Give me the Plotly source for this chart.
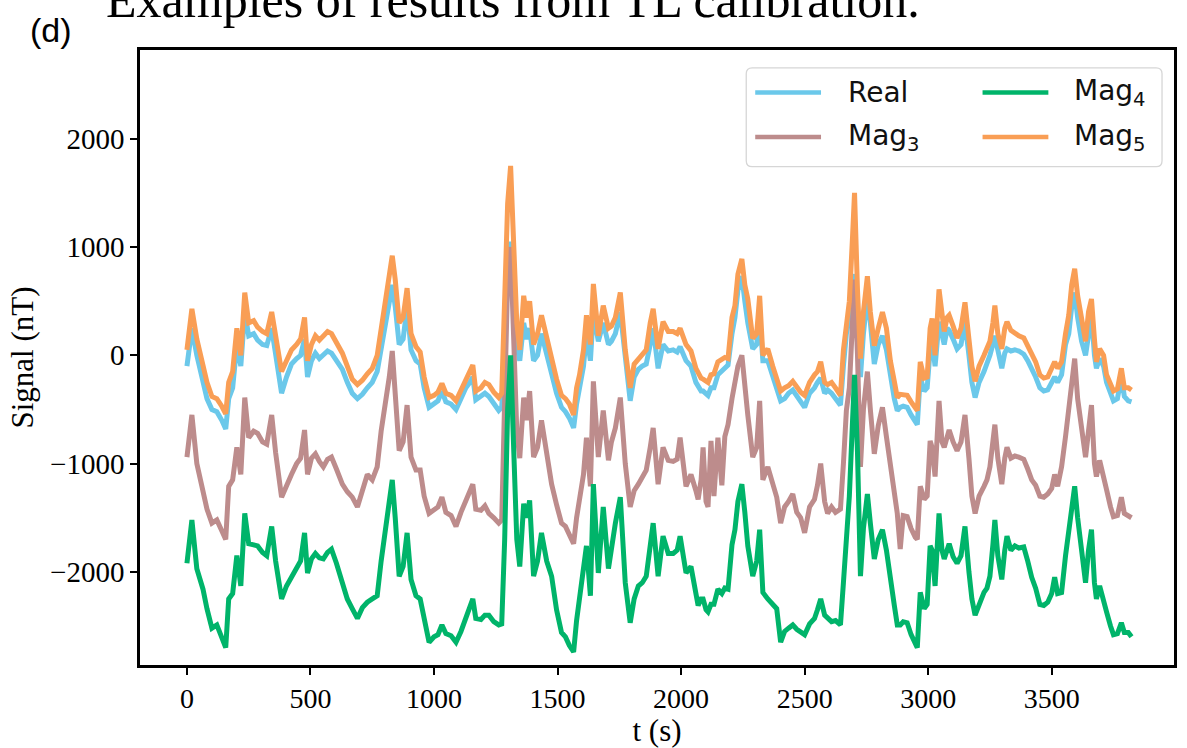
import plotly.graph_objects as go

# ---------------- data ----------------
t = [0,20,40,65,81,101,121,141,157,169,
     185,202,218,234,250,270,286,306,323,343,
     359,383,403,423,444,460,476,488,504,520,
     536,552,569,585,605,629,649,669,690,710,
     730,750,770,786,802,819,831,843,859,875,
     891,907,927,944,960,980,1000,1016,1032,1048,
     1069,1089,1109,1129,1145,1157,1169,1190,1206,1222,
     1242,1262,1274,1286,1298,1310,1323,1335,1347,1363,
     1375,1387,1403,1419,1435,1456,1476,1496,1516,1532,
     1548,1565,1577,1589,1605,1617,1633,1645,1665,1685,
     1706,1718,1734,1754,1774,1794,1810,1827,1843,1859,
     1875,1887,1907,1927,1948,1968,1984,1996,2020,2040,
     2060,2069,2081,2089,2101,2109,2121,2133,2149,2165,
     2177,2190,2206,2218,2230,2246,2258,2270,2290,2306,
     2318,2331,2351,2371,2387,2403,2419,2435,2452,2468,
     2484,2500,2520,2540,2552,2565,2581,2593,2609,2625,
     2645,2657,2669,2681,2694,2702,2714,2726,2738,2754,
     2766,2782,2798,2815,2831,2847,2863,2875,2887,2899,
     2915,2931,2948,2956,2968,2984,2996,3008,3016,3028,
     3044,3056,3065,3077,3085,3101,3117,3133,3149,3165,
     3177,3190,3206,3226,3238,3250,3262,3270,3282,3298,
     3310,3319,3335,3351,3367,3387,3403,3419,3435,3452,
     3468,3484,3500,3512,3524,3540,3556,3569,3581,3593,
     3605,3621,3637,3649,3661,3673,3681,3694,3710,3722,
     3738,3750,3766,3782,3794,3810,3823]

real = [-100,250,0,-250,-400,-500,-520,-600,-680,-400,
        -300,100,-100,400,180,200,140,100,90,250,
        0,-350,-200,-80,-30,0,150,-200,-50,20,
        -30,0,40,20,-50,-130,-250,-350,-400,-360,
        -300,-250,-150,50,250,500,650,450,100,150,
        450,50,-50,-80,-300,-480,-450,-420,-330,-430,
        -450,-500,-400,-300,-250,-200,-410,-380,-350,-380,
        -450,-510,-480,0,800,1050,600,100,-50,300,
        150,250,-50,0,200,0,-150,-350,-480,-520,
        -580,-670,-450,-300,-100,200,-50,400,130,300,
        100,130,200,400,-50,-420,-200,-130,-100,-80,
        100,250,-120,100,40,50,30,80,-50,-100,
        -250,-280,-330,-330,-360,-370,-300,-300,-180,-150,
        -120,-90,200,350,600,730,500,300,60,100,
        370,-50,-50,-200,-300,-420,-400,-350,-320,-380,
        -420,-480,-350,-300,-250,-210,-350,-320,-350,-400,
        -460,-100,200,350,600,750,300,-200,200,550,
        300,-80,100,180,50,-200,-400,-510,-480,-470,
        -480,-550,-620,-640,-200,-330,-300,50,130,-100,
        310,200,100,250,230,150,60,100,310,0,
        -250,-390,-250,-150,-80,0,100,180,50,-120,
        20,60,40,50,40,10,-50,-120,-200,-300,
        -330,-320,-250,-200,-250,-180,100,200,450,580,
        350,130,0,200,370,0,-120,-30,-100,-250,
        -350,-420,-400,-200,-380,-420,-430]

mag5 = [50,430,150,-120,-250,-380,-400,-470,-540,-250,
        -150,250,0,580,300,320,260,220,200,400,
        150,-150,-50,50,100,150,350,-50,100,180,
        140,180,220,200,120,20,-100,-220,-270,-230,
        -170,-120,0,250,450,700,920,700,300,350,
        620,200,80,30,-200,-390,-370,-340,-260,-350,
        -370,-420,-320,-220,-150,-90,-330,-300,-250,-270,
        -340,-390,-350,400,1400,1750,900,300,50,550,
        350,500,100,200,370,150,-50,-220,-370,-400,
        -450,-550,-300,-180,50,370,100,660,180,460,
        250,270,350,580,50,-300,-80,-30,0,50,
        300,430,60,310,220,220,200,250,100,40,
        -120,-160,-210,-220,-240,-250,-180,-170,-60,-40,
        -20,-30,350,460,750,890,650,520,155,200,
        550,0,60,-100,-200,-330,-300,-280,-240,-300,
        -340,-370,-250,-180,-150,-60,-250,-270,-250,-300,
        -370,50,310,500,1100,1500,600,-30,400,730,
        400,90,250,400,250,-50,-240,-390,-360,-360,
        -370,-430,-490,-510,-60,-210,-200,250,340,0,
        610,350,220,350,370,270,160,250,490,150,
        -100,-240,-100,0,60,130,300,460,200,60,
        250,310,230,200,180,160,80,0,-60,-180,
        -210,-200,-120,-60,-120,-60,200,370,650,800,
        550,310,130,400,520,150,-60,60,0,-180,
        -260,-330,-310,-120,-300,-300,-320]

mag3 = [-940,-550,-1000,-1240,-1420,-1550,-1520,-1620,-1700,-1210,
        -1150,-850,-1100,-390,-760,-700,-720,-800,-820,-550,
        -900,-1310,-1190,-1100,-1000,-950,-690,-1100,-950,-910,
        -980,-1030,-960,-940,-1050,-1190,-1260,-1310,-1400,-1250,
        -1100,-1150,-1030,-700,-480,-200,40,-300,-880,-800,
        -460,-940,-1060,-1060,-1300,-1460,-1420,-1400,-1310,-1450,
        -1480,-1580,-1450,-1330,-1260,-1190,-1420,-1430,-1390,-1460,
        -1500,-1550,-1520,-500,700,1000,-100,-700,-950,-390,
        -600,-330,-940,-850,-600,-900,-1190,-1380,-1550,-1580,
        -1650,-1740,-1500,-1310,-1100,-760,-1210,-240,-940,-510,
        -970,-800,-670,-390,-1000,-1400,-1250,-1190,-1120,-1060,
        -850,-670,-1190,-850,-970,-980,-960,-760,-1210,-1100,
        -1250,-1330,-1150,-850,-1350,-1400,-790,-1300,-760,-1200,
        -750,-640,-400,-240,-100,0,-300,-550,-940,-850,
        -420,-1150,-1030,-1200,-1310,-1550,-1400,-1350,-1280,-1450,
        -1500,-1640,-1400,-1330,-1200,-1000,-1350,-1460,-1400,-1450,
        -1420,-1000,-510,-300,300,700,0,-1030,-500,-150,
        -500,-910,-650,-480,-750,-1000,-1310,-1460,-1790,-1480,
        -1490,-1600,-1680,-1700,-1210,-1330,-1300,-790,-850,-1120,
        -420,-800,-850,-760,-690,-800,-880,-800,-550,-950,
        -1300,-1460,-1300,-1210,-1150,-1030,-800,-640,-950,-1190,
        -950,-850,-950,-930,-940,-960,-1050,-1150,-1200,-1300,
        -1310,-1280,-1230,-1100,-1210,-1030,-750,-480,-200,-30,
        -400,-690,-940,-700,-460,-1000,-1120,-970,-1100,-1240,
        -1400,-1490,-1480,-1310,-1460,-1480,-1500]

mag4 = [-1920,-1520,-1970,-2160,-2340,-2520,-2490,-2620,-2700,-2250,
        -2200,-1850,-2130,-1460,-1740,-1750,-1760,-1820,-1850,-1580,
        -1900,-2250,-2130,-2050,-1970,-1900,-1640,-2010,-1880,-1830,
        -1870,-1880,-1820,-1790,-1920,-2100,-2250,-2340,-2430,-2330,
        -2280,-2250,-2220,-1900,-1640,-1350,-1150,-1500,-2040,-1950,
        -1640,-2070,-2220,-2250,-2450,-2650,-2600,-2580,-2490,-2570,
        -2590,-2650,-2550,-2420,-2330,-2250,-2430,-2440,-2400,-2400,
        -2460,-2490,-2480,-1700,-500,0,-900,-1700,-1950,-1370,
        -1500,-1340,-2040,-1900,-1640,-1900,-2040,-2350,-2560,-2600,
        -2680,-2740,-2450,-2250,-2000,-1760,-2220,-1190,-2010,-1400,
        -1970,-1750,-1550,-1310,-2100,-2470,-2250,-2130,-2100,-2040,
        -1750,-1550,-2040,-1670,-1830,-1830,-1800,-1670,-2010,-1950,
        -2200,-2310,-2250,-2250,-2350,-2370,-2300,-2300,-2160,-2200,
        -2150,-2160,-1750,-1610,-1350,-1190,-1450,-1760,-2040,-1900,
        -1610,-2190,-2250,-2300,-2340,-2650,-2550,-2520,-2490,-2530,
        -2560,-2580,-2480,-2430,-2350,-2250,-2400,-2430,-2460,-2450,
        -2490,-2100,-1740,-1300,-600,-180,-900,-2040,-1600,-1280,
        -1550,-1880,-1700,-1610,-1800,-2100,-2310,-2490,-2490,-2460,
        -2470,-2580,-2680,-2700,-2190,-2340,-2300,-1760,-1800,-2130,
        -1460,-1800,-1880,-1800,-1740,-1860,-1920,-1850,-1580,-2000,
        -2250,-2400,-2300,-2190,-2150,-2040,-1750,-1520,-1850,-2070,
        -1800,-1670,-1800,-1760,-1780,-1770,-1900,-2050,-2150,-2300,
        -2310,-2280,-2200,-2050,-2200,-2190,-1850,-1640,-1400,-1210,
        -1500,-1760,-2100,-1800,-1610,-2100,-2250,-2130,-2250,-2370,
        -2500,-2580,-2570,-2470,-2560,-2560,-2600]

x_ticks = [0, 500, 1000, 1500, 2000, 2500, 3000, 3500]
y_ticks = [-2000, -1000, 0, 1000, 2000]

series_names = ["Real", "Mag<sub>3</sub>", "Mag<sub>4</sub>", "Mag<sub>5</sub>"]
series_values = [real, mag3, mag4, mag5]
series_colors = ["#6BC8EA", "#BD8C8C", "#00B46A", "#F99E55"]

# ---------------- figure ----------------
fig = go.Figure()
for name, vals, col in zip(series_names, series_values, series_colors):
    fig.add_trace(go.Scatter(x=t, y=vals, mode="lines", name=name,
                             line=dict(color=col, width=5),
                             showlegend=False))

L, R, T, B = 140, 10, 50, 76
W, H = 1187, 748
PW, PH = W - L - R, H - T - B


def px(xp):
    return (xp - L) / PW


def py(yp):
    return (H - B - yp) / PH


serif = "Liberation Serif, Times New Roman, serif"
sans = "DejaVu Sans, sans-serif"

fig.update_layout(
    width=W, height=H,
    margin=dict(l=L, r=R, t=T, b=B),
    paper_bgcolor="white", plot_bgcolor="white",
    font=dict(family=serif, color="black"),
)
fig.update_xaxes(range=[-190, 3995], tickvals=x_ticks,
                 ticks="outside", ticklen=7, tickwidth=1.5, tickcolor="black",
                 showline=True, mirror=True, linecolor="black", linewidth=2.5,
                 showgrid=False, zeroline=False,
                 tickfont=dict(family=serif, size=28, color="black"),
                 title=dict(text="t (s)", font=dict(family=serif, size=31), standoff=2))
fig.update_yaxes(range=[-2860, 2820], tickvals=y_ticks,
                 ticks="outside", ticklen=7, tickwidth=1.5, tickcolor="black",
                 showline=True, mirror=True, linecolor="black", linewidth=2.5,
                 showgrid=False, zeroline=False,
                 tickfont=dict(family=serif, size=29, color="black"),
                 title=dict(text="Signal (nT)", font=dict(family=serif, size=31), standoff=8))

# header texts (partially cut off page title and panel label)
fig.add_annotation(text="Examples of results from TL calibration.",
                   xref="paper", yref="paper", x=px(104), y=py(30),
                   xanchor="left", yanchor="bottom", showarrow=False,
                   font=dict(family=serif, size=50, color="black"))
fig.add_annotation(text="(d)", xref="paper", yref="paper", x=px(28), y=py(30),
                   xanchor="left", yanchor="middle", showarrow=False,
                   font=dict(family="Liberation Sans, Arial, sans-serif", size=34, color="black"))

# legend box (manual, matplotlib-like)
x0, x1, y0, y1 = px(748), px(1165), py(168), py(68)
rx, ry = 6 / PW, 6 / PH
path = (f"M {x0+rx},{y1} L {x1-rx},{y1} Q {x1},{y1} {x1},{y1-ry} "
        f"L {x1},{y0+ry} Q {x1},{y0} {x1-rx},{y0} L {x0+rx},{y0} "
        f"Q {x0},{y0} {x0},{y0+ry} L {x0},{y1-ry} Q {x0},{y1} {x0+rx},{y1} Z")
fig.add_shape(type="path", path=path, xref="paper", yref="paper",
              line=dict(color="#d6d6d6", width=1.3), fillcolor="rgba(255,255,255,0.85)",
              layer="above")

legend_pos = {  # name index -> (line x start px, row y px, text x px)
    0: (757, 93, 848),
    1: (757, 138, 848),
    2: (985, 93, 1075),
    3: (985, 138, 1075),
}
for i, (lx, ly, tx) in legend_pos.items():
    fig.add_shape(type="line", xref="paper", yref="paper",
                  x0=px(lx), x1=px(lx + 66), y0=py(ly), y1=py(ly),
                  line=dict(color=series_colors[i], width=4.5), layer="above")
    fig.add_annotation(text=series_names[i], xref="paper", yref="paper",
                       x=px(tx), y=py(ly), xanchor="left", yanchor="middle",
                       showarrow=False,
                       font=dict(family=sans, size=28, color="#111111"))

fig.write_html("out.html")
